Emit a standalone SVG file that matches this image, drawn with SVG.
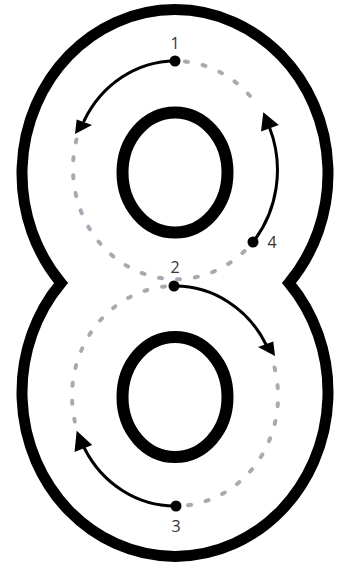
<svg xmlns="http://www.w3.org/2000/svg" width="339" height="568" viewBox="0 0 339 568">
<style>
.outline{fill:#fff;stroke:#000;stroke-width:11;stroke-linejoin:miter}
.ring{fill:none;stroke:#000;stroke-width:12}
.guide{fill:none;stroke:#a9a9b3;stroke-width:4;stroke-linecap:round;stroke-dasharray:3 15}
.arrow{fill:none;stroke:#000;stroke-width:3;stroke-linecap:round}
.head{fill:#000}
.dot{fill:#000}
.lbl{font-family:"Open Sans","Noto Sans","DejaVu Sans",sans-serif;font-size:16px;fill:#333;text-anchor:middle}
</style>
<rect width="339" height="568" fill="#fff"/>
<g id="figure-eight">
<path class="outline" d="M61,283 A153,164 0 1,1 289,283 A153,164 0 1,1 61,283 Z"/>
</g>
<g id="inner-rings">
<ellipse id="ring-top" class="ring" cx="175" cy="172.5" rx="52.5" ry="60"/>
<ellipse id="ring-bottom" class="ring" cx="175" cy="397" rx="52.5" ry="60"/>
</g>
<g id="guides">
<path class="guide" d="M76.5,139.5 A103,111 0 0,0 253,242"/>
<path class="guide" d="M185,61.5 A103,111 0 0,1 258.3,106.7"/>
<path class="guide" d="M165,286.5 A103,110 0 0,0 75.1,422.6"/>
<path class="guide" d="M274.5,367.5 A103,110 0 0,1 186,505.5"/>
</g>
<g id="connectors">
<path class="arrow" d="M175,61 A103,111 0 0,0 84,121"/>
<polygon class="head" points="75,134 76.7,119.5 92,125"/>
<path class="arrow" d="M253,242 A103,111 0 0,0 269.7,128"/>
<polygon class="head" points="263.3,112.3 261,131.5 278.8,125"/>
<path class="arrow" d="M175,286 A103,110 0 0,1 266.3,345"/>
<polygon class="head" points="275,356 273.3,341.5 258,347"/>
<path class="arrow" d="M176,506 A103,110 0 0,1 84.4,448.3"/>
<polygon class="head" points="76.7,430.7 74.5,452 92.2,445"/>
</g>
<g id="step-1"><circle class="dot" cx="175" cy="61" r="5.5"/><text class="lbl" x="175" y="49">1</text></g>
<g id="step-2"><circle class="dot" cx="174" cy="286" r="5.5"/><text class="lbl" x="175" y="273">2</text></g>
<g id="step-3"><circle class="dot" cx="176" cy="506" r="5.5"/><text class="lbl" x="176" y="532">3</text></g>
<g id="step-4"><circle class="dot" cx="253" cy="242" r="5.5"/><text class="lbl" x="272" y="248">4</text></g>
</svg>
